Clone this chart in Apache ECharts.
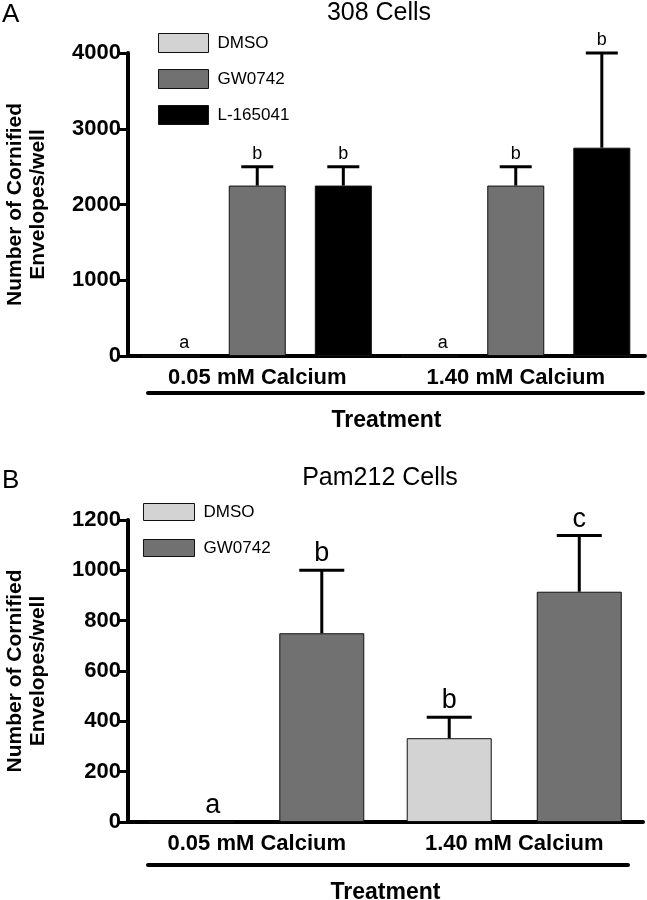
<!DOCTYPE html>
<html>
<head>
<meta charset="utf-8">
<script src="https://cdn.jsdelivr.net/npm/echarts@6/dist/echarts.min.js"></script>
<style>html,body{margin:0;padding:0;background:#fff}#c{width:647px;height:900px}</style>
</head>
<body>
<div id="c"></div>
<script>
// ---- data ----
const categories = ['0.05 mM Calcium', '1.40 mM Calcium'];

// Panel A: 308 Cells
const namesA = ['DMSO', 'GW0742', 'L-165041'];
const meanA_DMSO = [0, 0];
const meanA_GW = [2250, 2250];
const meanA_L = [2250, 2750];
const errA_DMSO = [0, 0];
const errA_GW = [250, 250];
const errA_L = [250, 1250];
const letA_DMSO = ['a', 'a'];
const letA_GW = ['b', 'b'];
const letA_L = ['b', 'b'];
const yMaxA = 4000, yStepA = 1000;

// Panel B: Pam212 Cells
const namesB = ['DMSO', 'GW0742'];
const meanB_DMSO = [0, 333];
const meanB_GW = [750, 915];
const errB_DMSO = [0, 83];
const errB_GW = [250, 223];
const letB_DMSO = ['a', 'b'];
const letB_GW = ['b', 'c'];
const yMaxB = 1200, yStepB = 200;

// ---- styles ----
const FONT = 'Liberation Sans, Arial, Helvetica, sans-serif';
const colors = { 'DMSO': '#d3d3d3', 'GW0742': '#717171', 'L-165041': '#000000' };

const chart = echarts.init(document.getElementById('c'), null, { renderer: 'canvas' });

const bwA = 57, gapA = 0.51;
const bwB = 85, gapB = 0.53;

function barSeries(name, data, idx, bw, gap) {
  return {
    type: 'bar', name, data, xAxisIndex: idx, yAxisIndex: idx,
    barWidth: bw, barGap: Math.round(gap * 100) + '%',
    itemStyle: { color: colors[name], borderColor: '#111', borderWidth: 1 },
    emphasis: { disabled: true }, silent: true
  };
}

function errSeries(idx, means, errs, letters, k, n, bw, gap, capW, fs, zeroShift, lift) {
  const offset = (k - (n - 1) / 2) * bw * (1 + gap);
  return {
    type: 'custom', xAxisIndex: idx, yAxisIndex: idx, z: 5, silent: true,
    data: means.map((m, i) => [i, m, m + errs[i]]),
    renderItem(params, api) {
      const i = params.dataIndex;
      const ci = api.value(0), m = api.value(1), up = api.value(2);
      const p0 = api.coord([ci, m]);
      const p1 = api.coord([ci, up]);
      const x = p0[0] + offset;
      const ch = [];
      if (up > m) {
        ch.push({ type: 'line', shape: { x1: x, y1: p0[1], x2: x, y2: p1[1] }, style: { stroke: '#000', lineWidth: 3 } });
        ch.push({ type: 'line', shape: { x1: x - capW / 2, y1: p1[1], x2: x + capW / 2, y2: p1[1] }, style: { stroke: '#000', lineWidth: 3 } });
      }
      ch.push({
        type: 'text', x: x + (m === 0 ? zeroShift : 0), y: p1[1] - lift,
        style: { text: letters[i], fill: '#000', font: fs + 'px ' + FONT, align: 'center', verticalAlign: 'bottom' }
      });
      return { type: 'group', children: ch };
    }
  };
}

function xAxisCfg(idx, nameGap) {
  return {
    type: 'category', gridIndex: idx, data: categories,
    axisLine: { lineStyle: { color: '#000', width: 4 } },
    axisTick: { show: false },
    axisLabel: { color: '#000', fontWeight: 'bold', fontSize: 22, fontFamily: FONT, margin: 11 },
    name: 'Treatment', nameLocation: 'middle', nameGap: nameGap,
    nameTextStyle: { color: '#000', fontWeight: 'bold', fontSize: 23, fontFamily: FONT }
  };
}
function yAxisCfg(idx, max, step) {
  return {
    type: 'value', gridIndex: idx, min: 0, max: max, interval: step,
    axisLine: { show: true, lineStyle: { color: '#000', width: 4 } },
    axisTick: { show: true, length: 10, lineStyle: { color: '#000', width: 3 } },
    splitLine: { show: false },
    axisLabel: { color: '#000', fontWeight: 'bold', fontSize: 22, fontFamily: FONT, margin: 7, formatter: v => String(v) },
    name: 'Number of Cornified\nEnvelopes/well', nameLocation: 'middle', nameGap: 78,
    nameTextStyle: { color: '#000', fontWeight: 'bold', fontSize: 21, lineHeight: 23, fontFamily: FONT }
  };
}
function legendCfg(data, left, top, iw, ih, gap) {
  return {
    data, left, top, orient: 'vertical', itemWidth: iw, itemHeight: ih, itemGap: gap,
    icon: 'rect', selectedMode: false, padding: 0,
    itemStyle: { borderColor: '#111', borderWidth: 1 },
    textStyle: { color: '#000', fontSize: 17, fontFamily: FONT, padding: [0, 0, 0, 4] }
  };
}

const option = {
  animation: false,
  backgroundColor: '#fff',
  title: [
    { text: 'A', left: 2, top: 2, padding: 0, textStyle: { fontSize: 26, fontWeight: 'normal', color: '#000', fontFamily: FONT } },
    { text: '308 Cells', left: 379, textAlign: 'center', top: 1, padding: 0, textStyle: { fontSize: 25, fontWeight: 'normal', color: '#000', fontFamily: FONT } },
    { text: 'B', left: 2, top: 468, padding: 0, textStyle: { fontSize: 26, fontWeight: 'normal', color: '#000', fontFamily: FONT } },
    { text: 'Pam212 Cells', left: 380, textAlign: 'center', top: 466, padding: 0, textStyle: { fontSize: 25, fontWeight: 'normal', color: '#000', fontFamily: FONT } }
  ],
  legend: [
    legendCfg(namesA, 158, 33, 50, 19, 16),
    legendCfg(namesB, 143, 503, 51, 17, 18)
  ],
  grid: [
    { left: 128, right: 2, top: 53, bottom: 544, containLabel: false, outerBoundsMode: 'none' },
    { left: 128, right: 4, top: 520, bottom: 78, containLabel: false, outerBoundsMode: 'none' }
  ],
  xAxis: [xAxisCfg(0, 53), xAxisCfg(1, 59)],
  yAxis: [yAxisCfg(0, yMaxA, yStepA), yAxisCfg(1, yMaxB, yStepB)],
  series: [
    barSeries('DMSO', meanA_DMSO, 0, bwA, gapA),
    barSeries('GW0742', meanA_GW, 0, bwA, gapA),
    barSeries('L-165041', meanA_L, 0, bwA, gapA),
    errSeries(0, meanA_DMSO, errA_DMSO, letA_DMSO, 0, 3, bwA, gapA, 32, 18, 13, 4),
    errSeries(0, meanA_GW, errA_GW, letA_GW, 1, 3, bwA, gapA, 32, 18, 0, 4),
    errSeries(0, meanA_L, errA_L, letA_L, 2, 3, bwA, gapA, 32, 18, 0, 4),
    barSeries('DMSO', meanB_DMSO, 1, bwB, gapB),
    barSeries('GW0742', meanB_GW, 1, bwB, gapB),
    errSeries(1, meanB_DMSO, errB_DMSO, letB_DMSO, 0, 2, bwB, gapB, 45, 27, 21, 3),
    errSeries(1, meanB_GW, errB_GW, letB_GW, 1, 2, bwB, gapB, 45, 27, 0, 3)
  ],
  graphic: [
    { type: 'line', shape: { x1: 148, y1: 393, x2: 643, y2: 393 }, style: { stroke: '#000', lineWidth: 4, lineCap: 'round' } },
    { type: 'line', shape: { x1: 148, y1: 865, x2: 628, y2: 865 }, style: { stroke: '#000', lineWidth: 4, lineCap: 'round' } }
  ]
};
chart.setOption(option);
</script>
</body>
</html>
